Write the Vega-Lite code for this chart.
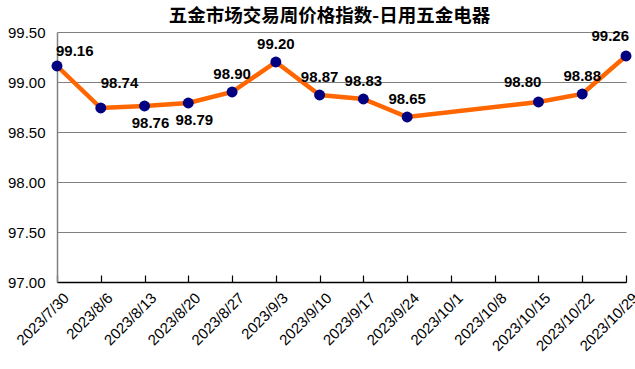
{
  "$schema": "https://vega.github.io/schema/vega-lite/v6.json",
  "width": 569,
  "height": 250,
  "autosize": {"type": "none"},
  "padding": {"left": 57, "top": 32, "right": 9, "bottom": 87},
  "background": "white",
  "config": {"view": {"stroke": null}},
  "title": {
    "text": "五金市场交易周价格指数-日用五金电器",
    "font": "Noto Sans CJK SC",
    "fontSize": 18.5,
    "fontWeight": "bold",
    "color": "#000000",
    "anchor": "middle",
    "dx": -12,
    "offset": 0
  },
  "data": {
    "values": [
      {"date": "2023/7/30", "value": 99.16},
      {"date": "2023/8/6", "value": 98.74},
      {"date": "2023/8/13", "value": 98.76},
      {"date": "2023/8/20", "value": 98.79},
      {"date": "2023/8/27", "value": 98.90},
      {"date": "2023/9/3", "value": 99.20},
      {"date": "2023/9/10", "value": 98.87},
      {"date": "2023/9/17", "value": 98.83},
      {"date": "2023/9/24", "value": 98.65},
      {"date": "2023/10/15", "value": 98.80},
      {"date": "2023/10/22", "value": 98.88},
      {"date": "2023/10/29", "value": 99.26}
    ]
  },
  "encoding": {
    "x": {
      "field": "date",
      "type": "ordinal",
      "sort": null,
      "scale": {
        "type": "point",
        "padding": 0,
        "domain": ["2023/7/30", "2023/8/6", "2023/8/13", "2023/8/20", "2023/8/27", "2023/9/3", "2023/9/10", "2023/9/17", "2023/9/24", "2023/10/1", "2023/10/8", "2023/10/15", "2023/10/22", "2023/10/29"]
      },
      "axis": {
        "title": null,
        "labelAngle": -45,
        "labelFont": "Liberation Sans",
        "labelFontSize": 15,
        "labelColor": "#000000",
        "domainColor": "#000000",
        "domainWidth": 1.5,
        "tickColor": "#000000",
        "tickWidth": 1.2,
        "tickSize": -7,
        "labelPadding": 15,
        "labelOffset": 4,
        "grid": false
      }
    },
    "y": {
      "field": "value",
      "type": "quantitative",
      "scale": {"domain": [97, 99.5], "nice": false, "zero": false},
      "axis": {
        "title": null,
        "values": [97, 97.5, 98, 98.5, 99, 99.5],
        "format": ".2f",
        "labelFont": "Liberation Sans",
        "labelFontSize": 15,
        "labelColor": "#000000",
        "labelPadding": 12,
        "ticks": false,
        "domainColor": "#808080",
        "domainWidth": 1.5,
        "grid": true,
        "gridColor": "#808080",
        "gridWidth": 1.2
      }
    }
  },
  "layer": [
    {"mark": {"type": "line", "color": "#FF6600", "strokeWidth": 4.5}},
    {"mark": {"type": "point", "filled": true, "color": "#000080", "opacity": 1, "size": 120}},
    {
      "transform": [{"filter": {"field": "date", "oneOf": ["2023/7/30"]}}],
      "mark": {"type": "text", "font": "Liberation Sans", "fontSize": 15, "fontWeight": "bold", "color": "#000000", "align": "left", "baseline": "alphabetic", "dx": -1, "dy": -10},
      "encoding": {"text": {"field": "value", "type": "quantitative", "format": ".2f"}}
    },
    {
      "transform": [{"filter": {"field": "date", "oneOf": ["2023/8/6"]}}],
      "mark": {"type": "text", "font": "Liberation Sans", "fontSize": 15, "fontWeight": "bold", "color": "#000000", "align": "left", "baseline": "alphabetic", "dx": 0, "dy": -20},
      "encoding": {"text": {"field": "value", "type": "quantitative", "format": ".2f"}}
    },
    {
      "transform": [{"filter": {"field": "date", "oneOf": ["2023/8/27", "2023/9/3", "2023/9/10", "2023/9/17", "2023/9/24", "2023/10/22"]}}],
      "mark": {"type": "text", "font": "Liberation Sans", "fontSize": 15, "fontWeight": "bold", "color": "#000000", "align": "center", "baseline": "alphabetic", "dx": 0, "dy": -13},
      "encoding": {"text": {"field": "value", "type": "quantitative", "format": ".2f"}}
    },
    {
      "transform": [{"filter": {"field": "date", "oneOf": ["2023/10/15", "2023/10/29"]}}],
      "mark": {"type": "text", "font": "Liberation Sans", "fontSize": 15, "fontWeight": "bold", "color": "#000000", "align": "right", "baseline": "alphabetic", "dx": 3, "dy": -15},
      "encoding": {"text": {"field": "value", "type": "quantitative", "format": ".2f"}}
    },
    {
      "transform": [{"filter": {"field": "date", "oneOf": ["2023/8/13", "2023/8/20"]}}],
      "mark": {"type": "text", "font": "Liberation Sans", "fontSize": 15, "fontWeight": "bold", "color": "#000000", "align": "center", "baseline": "top", "dx": 6, "dy": 10},
      "encoding": {"text": {"field": "value", "type": "quantitative", "format": ".2f"}}
    }
  ]
}
